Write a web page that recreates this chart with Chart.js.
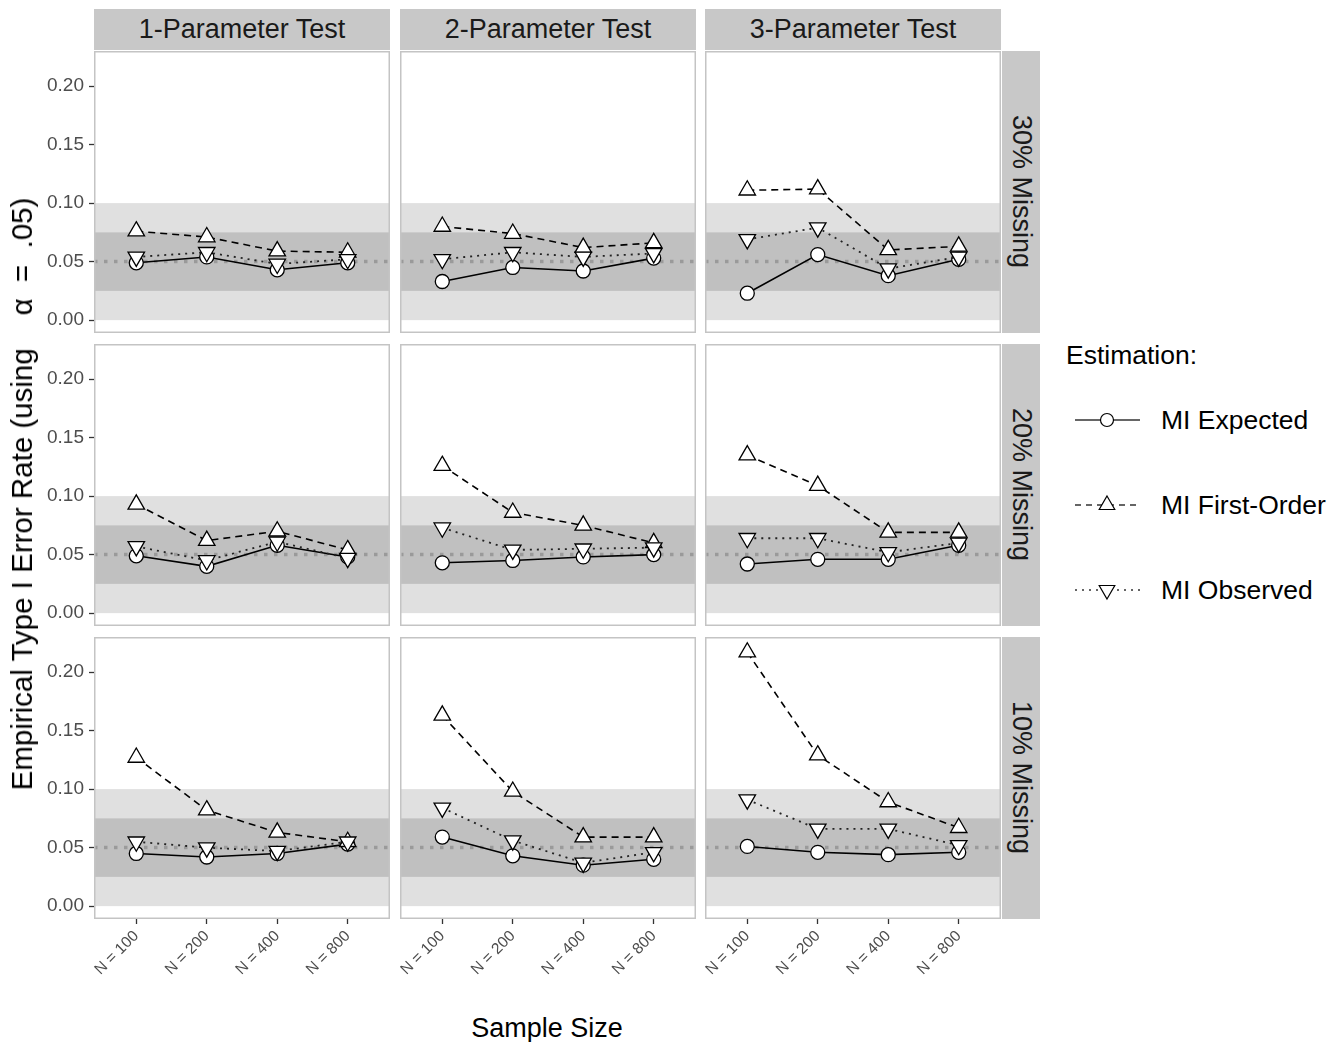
<!DOCTYPE html>
<html>
<head>
<meta charset="utf-8">
<script src="https://cdn.jsdelivr.net/npm/chart.js@4.4.0/dist/chart.umd.min.js"></script>
<style>
html,body{margin:0;padding:0;background:#fff;}
#root{position:relative;width:1331px;height:1042px;overflow:hidden;font-family:"Liberation Sans",Arial,Helvetica,sans-serif;}
#root canvas{position:absolute;}
.strip{position:absolute;background:#c8c8c8;color:#1a1a1a;display:flex;align-items:center;justify-content:center;font-size:27px;white-space:nowrap;}
.vstrip{writing-mode:vertical-rl;}
.title{position:absolute;color:#000;font-size:27px;white-space:pre;}
.leg{position:absolute;color:#000;font-size:26.5px;white-space:nowrap;}
svg.key{position:absolute;overflow:visible;}
</style>
</head>
<body>
<div id="root"></div>
<script>
// ---------- data ----------
const sampleSizes = ["N = 100", "N = 200", "N = 400", "N = 800"];
const testTypes = ["1-Parameter Test", "2-Parameter Test", "3-Parameter Test"];
const missingRates = ["30% Missing", "20% Missing", "10% Missing"];
const seriesNames = ["MI Expected", "MI First-Order", "MI Observed"];
const yTickValues = [0, 0.05, 0.10, 0.15, 0.20];
const outerBand = [0, 0.10];
const innerBand = [0.025, 0.075];
const nominalAlpha = 0.05;

// each array: [1-Parameter, 2-Parameter, 3-Parameter], values by sample size
const expected30 = [[0.049, 0.054, 0.043, 0.049], [0.033, 0.045, 0.042, 0.053], [0.023, 0.056, 0.038, 0.052]];
const expected20 = [[0.049, 0.040, 0.058, 0.048], [0.043, 0.045, 0.048, 0.050], [0.042, 0.046, 0.046, 0.058]];
const expected10 = [[0.045, 0.042, 0.045, 0.053], [0.059, 0.043, 0.035, 0.040], [0.051, 0.046, 0.044, 0.046]];

const firstOrder30 = [[0.076, 0.071, 0.059, 0.058], [0.080, 0.074, 0.062, 0.066], [0.111, 0.112, 0.060, 0.063]];
const firstOrder20 = [[0.093, 0.062, 0.070, 0.054], [0.126, 0.086, 0.075, 0.060], [0.135, 0.109, 0.069, 0.069]];
const firstOrder10 = [[0.127, 0.082, 0.063, 0.055], [0.163, 0.098, 0.059, 0.059], [0.217, 0.129, 0.089, 0.067]];

const observed30 = [[0.054, 0.058, 0.048, 0.052], [0.052, 0.058, 0.054, 0.057], [0.069, 0.079, 0.044, 0.054]];
const observed20 = [[0.057, 0.045, 0.061, 0.047], [0.073, 0.054, 0.055, 0.056], [0.064, 0.064, 0.052, 0.060]];
const observed10 = [[0.055, 0.050, 0.047, 0.055], [0.084, 0.056, 0.037, 0.046], [0.091, 0.066, 0.066, 0.052]];

const expectedRows = [expected30, expected20, expected10];
const firstOrderRows = [firstOrder30, firstOrder20, firstOrder10];
const observedRows = [observed30, observed20, observed10];

// ---------- layout ----------
const FONT = '"Liberation Sans", Arial, Helvetica, sans-serif';
const colLeft = [94, 400, 705];
const rowTop = [51, 344, 637];
const panelW = 296, panelH = 282;
const yAxisW = 94, xAxisH = 80;
const Y_MIN = -0.011, Y_MAX = 0.230;

const root = document.getElementById('root');

const panelDecor = {
  id: 'panelDecor',
  beforeDatasetsDraw(chart) {
    const {ctx, chartArea: a, scales: {y}} = chart;
    const yp = v => y.getPixelForValue(v);
    ctx.save();
    ctx.beginPath(); ctx.rect(a.left, a.top, a.width, a.height); ctx.clip();
    ctx.fillStyle = '#e0e0e0';
    ctx.fillRect(a.left, yp(outerBand[1]), a.width, yp(outerBand[0]) - yp(outerBand[1]));
    ctx.fillStyle = '#c0c0c0';
    ctx.fillRect(a.left, yp(innerBand[1]), a.width, yp(innerBand[0]) - yp(innerBand[1]));
    ctx.strokeStyle = '#9a9a9a';
    ctx.lineWidth = 3.5;
    ctx.setLineDash([3.5, 6.5]);
    ctx.beginPath();
    ctx.moveTo(a.left, yp(nominalAlpha));
    ctx.lineTo(a.right, yp(nominalAlpha));
    ctx.stroke();
    ctx.restore();
  },
  afterDraw(chart) {
    const {ctx, chartArea: a} = chart;
    ctx.save();
    ctx.strokeStyle = '#c4c4c4';
    ctx.lineWidth = 1.5;
    ctx.strokeRect(a.left + 0.75, a.top + 0.75, a.width - 1.5, a.height - 1.5);
    ctx.restore();
  }
};

function pts(arr) { return arr.map((v, i) => ({x: i + 1, y: v})); }
function zeroPad(s) { s.paddingTop = 0; s.paddingBottom = 0; s.paddingLeft = 0; s.paddingRight = 0; }

for (let r = 0; r < 3; r++) {
  for (let c = 0; c < 3; c++) {
    const showY = c === 0, showX = r === 2;
    const left = colLeft[c] - (showY ? yAxisW : 0);
    const top = rowTop[r];
    const w = panelW + (showY ? yAxisW : 0);
    const h = panelH + (showX ? xAxisH : 0);
    const cv = document.createElement('canvas');
    cv.width = w; cv.height = h;
    cv.style.left = left + 'px'; cv.style.top = top + 'px';
    cv.style.width = w + 'px'; cv.style.height = h + 'px';
    root.appendChild(cv);

    const chart = new Chart(cv, {
      type: 'line',
      data: {
        datasets: [
          {
            label: seriesNames[0], data: pts(expectedRows[r][c]), order: 3,
            borderColor: '#000', borderWidth: 1.6, pointStyle: 'circle', pointRadius: 7,
            pointBackgroundColor: '#fff', pointBorderColor: '#000', pointBorderWidth: 1.3
          },
          {
            label: seriesNames[1], data: pts(firstOrderRows[r][c]), order: 2,
            borderColor: '#000', borderWidth: 1.6, borderDash: [7, 5], pointStyle: 'triangle', pointRadius: 9.5,
            pointBackgroundColor: '#fff', pointBorderColor: '#000', pointBorderWidth: 1.3
          },
          {
            label: seriesNames[2], data: pts(observedRows[r][c]), order: 1,
            borderColor: '#222', borderWidth: 1.8, borderDash: [2, 5], pointStyle: 'triangle', pointRotation: 180, pointRadius: 9.5,
            pointBackgroundColor: '#fff', pointBorderColor: '#000', pointBorderWidth: 1.3
          }
        ]
      },
      options: {
        responsive: false, maintainAspectRatio: false, animation: false, devicePixelRatio: 1,
        layout: {padding: 0, autoPadding: false},
        events: [],
        clip: false,
        plugins: {legend: {display: false}, tooltip: {enabled: false}},
        elements: {line: {tension: 0}},
        scales: {
          x: {
            type: 'linear', min: 0.4, max: 4.6, display: showX,
            afterBuildTicks: s => { s.ticks = sampleSizes.map((_, i) => ({value: i + 1})); },
            afterFit: s => { s.height = showX ? xAxisH : 0; zeroPad(s); },
            ticks: {
              callback: v => sampleSizes[v - 1], minRotation: 45, maxRotation: 45, autoSkip: false,
              font: {size: 15.5, family: FONT}, color: '#4d4d4d', padding: 3
            },
            grid: {display: true, drawOnChartArea: false, drawTicks: true, tickLength: 5, tickColor: '#333', tickWidth: 1.3},
            border: {display: false}
          },
          y: {
            type: 'linear', min: Y_MIN, max: Y_MAX, display: showY,
            afterBuildTicks: s => { s.ticks = yTickValues.map(v => ({value: v})); },
            afterFit: s => { s.width = showY ? yAxisW : 0; zeroPad(s); },
            ticks: {
              callback: v => v.toFixed(2), font: {size: 19, family: FONT}, color: '#4d4d4d', padding: 5
            },
            grid: {display: true, drawOnChartArea: false, drawTicks: true, tickLength: 5, tickColor: '#333', tickWidth: 1.3},
            border: {display: false}
          }
        }
      },
      plugins: [panelDecor]
    });

    // make the plot area land exactly on the panel rectangle
    const a = chart.chartArea;
    const dw = panelW - (a.right - a.left), dh = panelH - (a.bottom - a.top);
    if (Math.abs(dw) > 0.5 || Math.abs(dh) > 0.5) {
      chart.resize(w + dw, h + dh);
    }
    const a2 = chart.chartArea;
    cv.style.left = (colLeft[c] - a2.left) + 'px';
    cv.style.top = (rowTop[r] - a2.top) + 'px';
  }
}

// strips
testTypes.forEach((t, c) => {
  const d = document.createElement('div');
  d.className = 'strip';
  d.style.left = colLeft[c] + 'px'; d.style.top = '9px';
  d.style.width = panelW + 'px'; d.style.height = '41px';
  d.textContent = t;
  root.appendChild(d);
});
missingRates.forEach((t, r) => {
  const d = document.createElement('div');
  d.className = 'strip vstrip';
  d.style.left = (colLeft[2] + panelW + 1) + 'px'; d.style.top = rowTop[r] + 'px';
  d.style.width = '38px'; d.style.height = panelH + 'px';
  d.textContent = t;
  root.appendChild(d);
});

// axis titles
const xt = document.createElement('div');
xt.className = 'title';
xt.textContent = 'Sample Size';
xt.style.left = '547px'; xt.style.top = '1028px';
xt.style.transform = 'translate(-50%,-50%)';
root.appendChild(xt);

const yt = document.createElement('div');
yt.className = 'title';
yt.style.fontSize = '29.5px';
yt.textContent = 'Empirical Type I Error Rate (using    \u03B1  =  .05)';
yt.style.left = '22px'; yt.style.top = '494px';
yt.style.transform = 'translate(-50%,-50%) rotate(-90deg)';
root.appendChild(yt);

// legend
const legTitle = document.createElement('div');
legTitle.className = 'leg';
legTitle.textContent = 'Estimation:';
legTitle.style.left = '1066px'; legTitle.style.top = '355px';
legTitle.style.transform = 'translateY(-50%)';
root.appendChild(legTitle);

const legendRowsY = [420, 505, 590];
const keyDash = ['', '6,5', '2,5'];
const keyShape = ['circle', 'up', 'down'];
seriesNames.forEach((name, i) => {
  const y = legendRowsY[i];
  const svg = document.createElementNS('http://www.w3.org/2000/svg', 'svg');
  svg.setAttribute('class', 'key');
  svg.setAttribute('width', '70'); svg.setAttribute('height', '30');
  svg.style.left = '1074px'; svg.style.top = (y - 15) + 'px';
  let shape;
  const cx = 33, cy = 15, R = 9;
  if (keyShape[i] === 'circle') {
    shape = `<circle cx="${cx}" cy="${cy}" r="6.5" fill="#fff" stroke="#000" stroke-width="1.2"/>`;
  } else {
    const s = keyShape[i] === 'up' ? 1 : -1;
    const p = [[cx, cy - s * R], [cx + R * 0.866, cy + s * R * 0.5], [cx - R * 0.866, cy + s * R * 0.5]];
    shape = `<polygon points="${p.map(q => q.join(',')).join(' ')}" fill="#fff" stroke="#000" stroke-width="1.2"/>`;
  }
  svg.innerHTML = `<line x1="1" y1="${cy}" x2="66" y2="${cy}" stroke="#333" stroke-width="1.6" ${keyDash[i] ? 'stroke-dasharray="' + keyDash[i] + '"' : ''}/>` + shape;
  root.appendChild(svg);
  const t = document.createElement('div');
  t.className = 'leg';
  t.textContent = name;
  t.style.left = '1161px'; t.style.top = y + 'px';
  t.style.transform = 'translateY(-50%)';
  root.appendChild(t);
});
</script>
</body>
</html>
